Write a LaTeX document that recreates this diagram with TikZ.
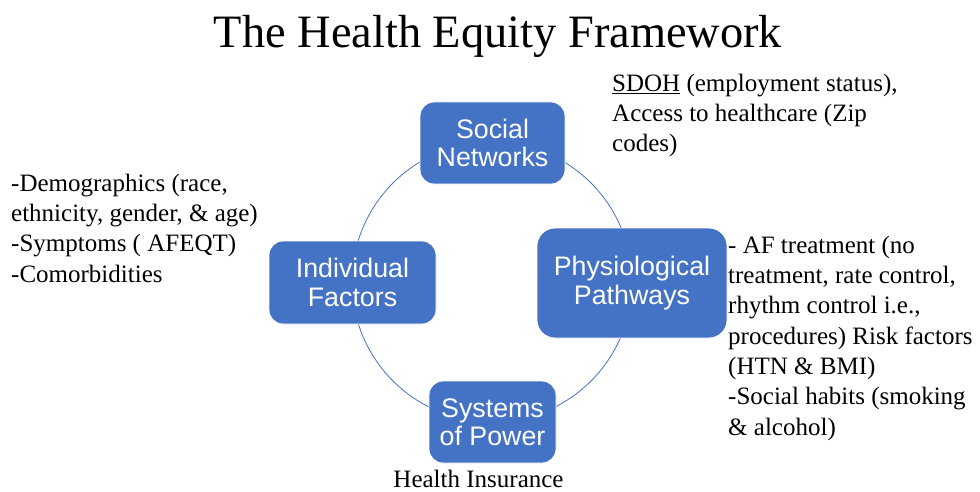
\documentclass[tikz,border=0pt]{standalone}
\usepackage{fontspec}
\setmainfont{Liberation Serif}
\newfontfamily\boxfont{Liberation Sans}
\definecolor{officeblue}{HTML}{4472C4}
\begin{document}
\begin{tikzpicture}[x=1pt,y=-1pt,
  pillar/.style={rectangle, rounded corners=14pt, fill=officeblue, draw=white,
    line width=0.8pt, text=white, align=center, inner sep=0pt,
    font=\boxfont\fontsize{26.8}{28.3}\selectfont},
  note/.style={anchor=north west, inner sep=0pt, align=left,
    font=\fontsize{25}{30.3}\selectfont},
  ring/.style={draw=officeblue, line width=0.8pt}]
\useasboundingbox (0,0) rectangle (980,492);

% title
\node[font=\fontsize{46.4}{50}\selectfont, anchor=base, inner sep=0pt] (title)
  at (498,48) {The Health Equity Framework};

% ring linking the four domains
\coordinate (hub) at (492,282);
\draw[ring] (hub) circle[radius=140];

% domains
\node[pillar, minimum width=145pt, minimum height=82pt] (social)
  at (492.5,143) {Social\\Networks};
\node[pillar, minimum width=167pt, minimum height=83pt] (indiv)
  at (352.5,282.5) {Individual\\Factors};
\node[pillar, rounded corners=18pt, minimum width=190pt, minimum height=110pt] (physio)
  at (632,283) {Physiological\\Pathways};
\node[pillar, minimum width=127pt, minimum height=82pt] (power)
  at (492.5,422) {Systems\\of Power};

% annotations
\node[note] (socialnote) at (612,69.8)
  {\strut\underline{SDOH} (employment status),\\Access to healthcare (Zip\\codes)};
\node[note] (indivnote) at (11,169.8)
  {\strut-Demographics (race,\\ethnicity, gender, \& age)\\-Symptoms ( AFEQT)\\-Comorbidities};
\node[note] (physionote) at (728,231.8)
  {\strut- AF treatment (no\\treatment, rate control,\\rhythm control i.e.,\\procedures) Risk factors\\(HTN \& BMI)\\-Social habits (smoking\\\& alcohol)};
\node[font=\fontsize{25}{30.3}\selectfont, anchor=base, inner sep=0pt] (powernote)
  at (478.5,487) {Health Insurance};
\end{tikzpicture}
\end{document}
